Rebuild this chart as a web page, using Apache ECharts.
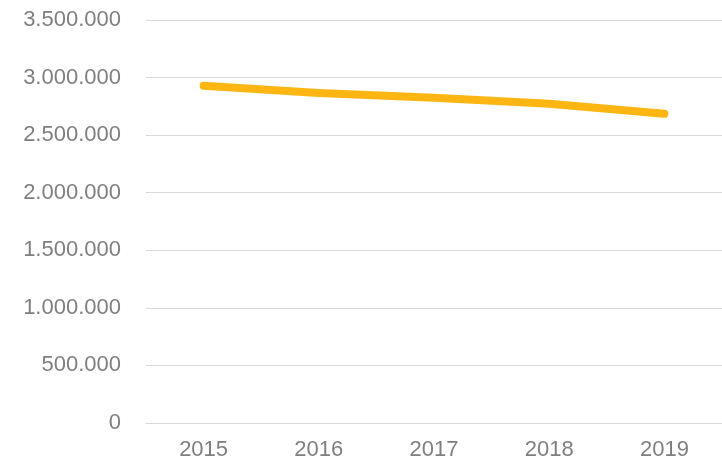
<!DOCTYPE html>
<html><head><meta charset="utf-8">
<script src="https://cdn.jsdelivr.net/npm/echarts@6/dist/echarts.min.js"></script>
<style>html,body{margin:0;padding:0;background:#fff}#c{width:722px;height:462px}</style>
</head><body><div id="c"></div>
<script>
const categories = ['2015','2016','2017','2018','2019'];
const values = [2928000, 2867000, 2824000, 2772000, 2685000];
const yMin = 0, yMax = 3500000, yInterval = 500000;

function fmt(v){ return String(v).replace(/\B(?=(\d{3})+(?!\d))/g, '.'); }

const chart = echarts.init(document.getElementById('c'), null, {renderer:'canvas'});
chart.setOption({
  animation: false,
  grid: {left: 146, top: 20, width: 578, bottom: 39, containLabel: false},
  xAxis: {
    type: 'category', data: categories, boundaryGap: true,
    axisLine: {show: true, lineStyle: {color: '#d9d9d9', width: 1}},
    axisTick: {show: false},
    axisLabel: {color: '#7f7f7f', fontFamily: 'Liberation Sans, Arial', fontSize: 22, margin: 16}
  },
  yAxis: {
    type: 'value', min: yMin, max: yMax, interval: yInterval,
    axisLine: {show: false}, axisTick: {show: false},
    splitLine: {lineStyle: {color: '#d9d9d9', width: 1}},
    axisLabel: {color: '#7f7f7f', fontFamily: 'Liberation Sans, Arial', fontSize: 22, margin: 25, formatter: fmt}
  },
  series: [{
    type: 'line', data: values, showSymbol: false, symbol: 'none',
    lineStyle: {color: '#FFB612', width: 8, cap: 'round', join: 'round'}
  }]
});
</script></body></html>
